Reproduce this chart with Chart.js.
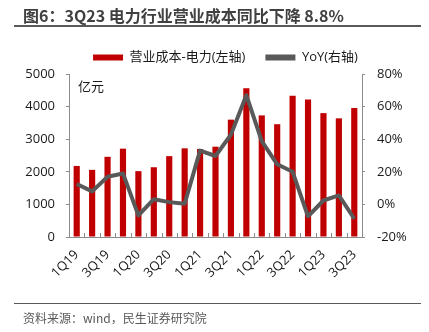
<!DOCTYPE html>
<html lang="zh-CN">
<head>
<meta charset="UTF-8">
<title>电力行业营业成本</title>
<style>
  html, body { margin: 0; padding: 0; background: #fff; }
  body { width: 429px; height: 332px; position: relative; overflow: hidden;
         font-family: "Noto Sans CJK SC", "Open Sans", sans-serif; }
  .title { position: absolute; left: 23px; top: 5px; font-size: 16px; font-weight: bold;
           color: #404040; white-space: nowrap; line-height: 20px; }
  .rule { position: absolute; left: 14px; width: 407px; background: #595959; }
  .source { position: absolute; left: 23px; top: 310px; font-size: 12px; color: #595959;
            white-space: nowrap; line-height: 16px; }
  #wrap { position: absolute; left: 0; top: 0; width: 429px; height: 332px; }
</style>
</head>
<body>

<div id="wrap"><canvas id="myChart" width="429" height="332"></canvas></div>
<div class="title">图6：3Q23 电力行业营业成本同比下降 8.8%</div>
<div class="rule" style="top:25px;height:2px"></div>
<div class="rule" style="top:303px;height:1px"></div>
<div class="source">资料来源：wind，民生证券研究院</div>

<script src="https://cdn.jsdelivr.net/npm/chart.js@4.4.0/dist/chart.umd.min.js"></script>
<script>
// quarters, 1Q19 .. 3Q23
var quarters = ['1Q19', '2Q19', '3Q19', '4Q19', '1Q20', '2Q20', '3Q20', '4Q20',
                '1Q21', '2Q21', '3Q21', '4Q21', '1Q22', '2Q22', '3Q22', '4Q22',
                '1Q23', '2Q23', '3Q23'];
// 营业成本-电力, 亿元
var cost = [2180, 2060, 2460, 2710, 2020, 2140, 2480, 2720,
            2700, 2770, 3600, 4560, 3730, 3460, 4330, 4220,
            3800, 3640, 3960];
// YoY, %
var yoy = [12.5, 8, 17, 19, -6.7, 3.2, 1.4, 0.4,
           33, 29.7, 42.8, 67, 38.8, 24.6, 20, -7.3,
           2.4, 5.5, -8.8];

var leftTicks = [0, 1000, 2000, 3000, 4000, 5000];
var rightTicks = [-20, 0, 20, 40, 60, 80];

var RED = '#C00000', GREY = '#595959', AXIS = '#8c8c8c';
var FONT = '"Open Sans", "Noto Sans CJK SC", sans-serif';

// small ticks between categories, pointing up into the plot, plus the unit label
var upTicks = {
    id: 'upTicks',
    afterLayout: function(chart) {
        // legend sits a little right of centre in the original
        chart.legend.left += 11;
        chart.legend.right += 11;
    },
    afterDatasetsDraw: function(chart) {
        var ctx = chart.ctx, x = chart.scales.x, area = chart.chartArea;
        var half = (x.getPixelForValue(1) - x.getPixelForValue(0)) / 2;
        ctx.save();
        ctx.strokeStyle = AXIS;
        ctx.lineWidth = 1;
        for (var i = 1; i < quarters.length; i++) {
            var px = Math.round(x.getPixelForValue(i) - half) + 0.5;
            ctx.beginPath();
            ctx.moveTo(px, area.bottom);
            ctx.lineTo(px, area.bottom - 4);
            ctx.stroke();
        }
        ctx.fillStyle = '#1a1a1a';
        ctx.font = '13px "Noto Sans CJK SC", sans-serif';
        ctx.textBaseline = 'middle';
        ctx.fillText('亿元', area.left + 9, area.top + 12);
        ctx.restore();
    }
};

var ctx = document.getElementById('myChart').getContext('2d');
var myChart = new Chart(ctx, {
    type: 'bar',
    data: {
        labels: quarters,
        datasets: [
            {
                label: '营业成本-电力(左轴)',
                data: cost,
                backgroundColor: RED,
                borderWidth: 0,
                barPercentage: 0.4,
                categoryPercentage: 1,
                yAxisID: 'y',
                order: 1
            },
            {
                type: 'line',
                label: 'YoY(右轴)',
                data: yoy,
                borderColor: GREY,
                backgroundColor: GREY,
                borderWidth: 4,
                tension: 0,
                pointRadius: 0,
                borderJoinStyle: 'round',
                yAxisID: 'y1',
                order: 0
            }
        ]
    },
    options: {
        responsive: false,
        animation: false,
        layout: { padding: { top: 31, left: 0, right: 0, bottom: 0 } },
        plugins: {
            tooltip: { enabled: false },
            legend: {
                position: 'top',
                labels: {
                    boxWidth: 30,
                    boxHeight: 6,
                    padding: 20,
                    color: '#1a1a1a',
                    font: { family: FONT, size: 13 },
                    sort: function(a, b) { return a.datasetIndex - b.datasetIndex; },
                    generateLabels: function(chart) {
                        var items = Chart.defaults.plugins.legend.labels.generateLabels(chart);
                        items.forEach(function(it) { it.lineWidth = 0; });
                        return items;
                    }
                }
            }
        },
        scales: {
            x: {
                offset: true,
                grid: { display: false },
                border: { display: true, color: AXIS, width: 1 },
                afterFit: function(s) { s.height = 95; },
                ticks: {
                    autoSkip: false,
                    minRotation: 45,
                    maxRotation: 45,
                    padding: 2,
                    color: '#1a1a1a',
                    font: { family: FONT, size: 13 },
                    callback: function(v, i) { return i % 2 === 0 ? quarters[i] : ''; }
                }
            },
            y: {
                position: 'left',
                min: 0,
                max: 5000,
                afterBuildTicks: function(s) { s.ticks = leftTicks.map(function(v) { return { value: v }; }); },
                afterFit: function(s) { s.width = 69; },
                grid: { drawOnChartArea: false, drawTicks: true, tickLength: 3, color: AXIS },
                border: { display: true, color: AXIS },
                ticks: {
                    padding: 11,
                    color: '#1a1a1a',
                    font: { family: FONT, size: 13 },
                    callback: function(v) { return String(v); }
                }
            },
            y1: {
                position: 'right',
                min: -20,
                max: 80,
                afterBuildTicks: function(s) { s.ticks = rightTicks.map(function(v) { return { value: v }; }); },
                afterFit: function(s) { s.width = 67; },
                grid: { drawOnChartArea: false, drawTicks: true, tickLength: 3, color: AXIS },
                border: { display: true, color: AXIS },
                ticks: {
                    padding: 12,
                    color: '#1a1a1a',
                    font: { family: FONT, size: 13 },
                    callback: function(v) { return v + '%'; }
                }
            }
        }
    },
    plugins: [upTicks]
});
</script>
</body>
</html>
